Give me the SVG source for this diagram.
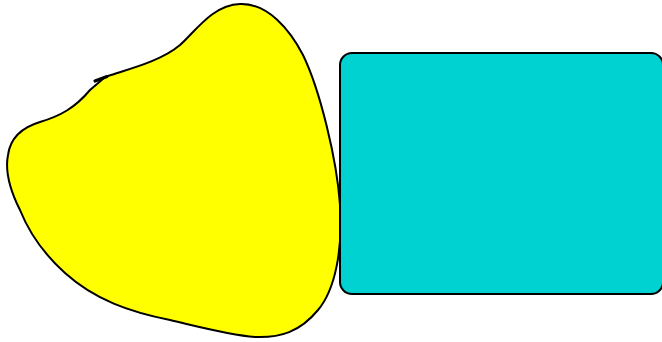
<svg xmlns="http://www.w3.org/2000/svg" width="662" height="342" viewBox="0 0 662 342">
<style>
.shape{stroke:#000;stroke-width:2;stroke-linejoin:round}
</style>
<rect width="662" height="342" fill="#fff"/>
<g id="blob">
<path class="shape" fill="#ffff00" d="M 94,81.5 L 108,76 C 125,70 160,62 180,45 C 195,32 212,5 240,4 C 268,3 290,30 303,55 C 320,90 337,160 340,205 C 343,250 335,290 318,310 C 300,332 280,338 255,337 C 230,335 200,327 170,320 C 130,312 95,300 65,273 C 45,255 30,235 20,210 C 10,190 5,170 8,155 C 10,140 20,128 40,122 C 60,116 75,108 90,90 L 104,78"/>
<path d="M 95,81 L 107,76.5" stroke="#000" stroke-width="3" stroke-linecap="round" fill="none"/>
</g>
<g id="box">
<rect class="shape" fill="#00d2d2" x="340" y="53" width="323" height="241" rx="12" ry="12"/>
</g>
</svg>
